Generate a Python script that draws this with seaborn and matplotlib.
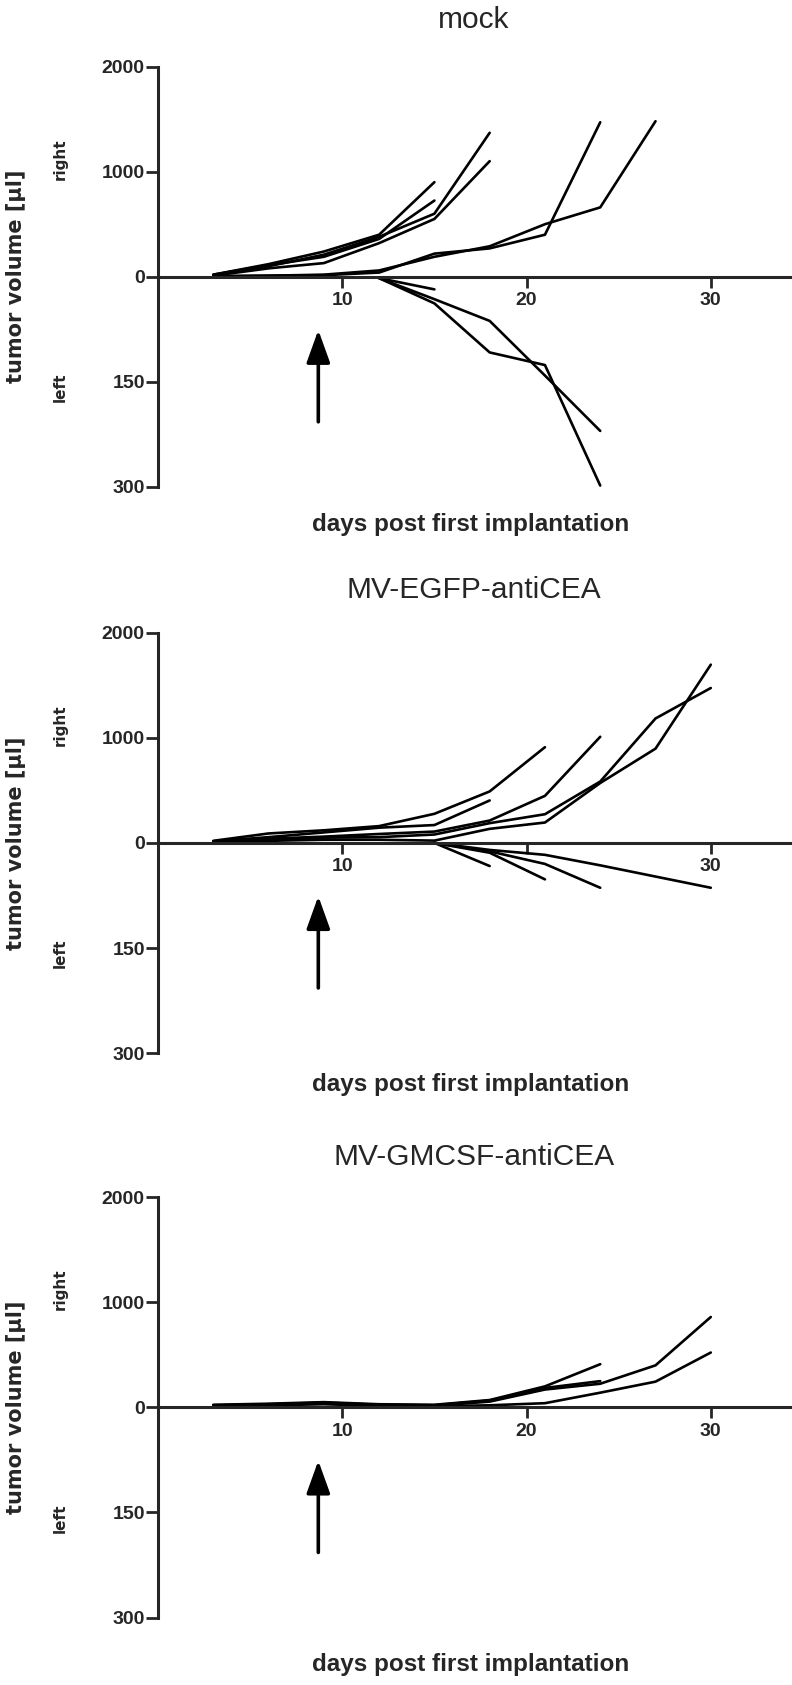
import matplotlib
matplotlib.use("Agg")
import matplotlib.pyplot as plt
import seaborn as sns
import pandas as pd

# measurement days (right tumours start on day 3)
days = [3, 6, 9, 12, 15, 18, 21, 24, 27, 30]

titles = ["mock", "MV-EGFP-antiCEA", "MV-GMCSF-antiCEA"]

# right tumours [µl], one list per mouse
mock_right = [
    [20, 120, 240, 400, 900],
    [20, 110, 190, 360, 725],
    [15, 100, 210, 380, 600, 1370],
    [10, 80, 130, 320, 550, 1100],
    [5, 10, 15, 40, 220, 270, 400, 1470],
    [5, 10, 20, 60, 190, 290, 500, 660, 1480],
]
# left tumours [µl]: first day measured + values
mock_left_start = [12, 12, 12]
mock_left = [
    [2, 18],
    [2, 32, 63, 141, 220],
    [2, 38, 108, 126, 298],
]

egfp_right = [
    [20, 90, 120, 160, 277, 490, 911],
    [15, 55, 100, 145, 170, 404],
    [10, 40, 60, 85, 108, 213, 448, 1010],
    [10, 30, 50, 55, 80, 188, 273, 584, 1184, 1474],
    [5, 20, 30, 30, 22, 134, 194, 570, 897, 1696],
]
egfp_left_start = [15, 15, 15, 15]
egfp_left = [
    [0, 33],
    [0, 14, 52],
    [0, 12, 30, 64],
    [0, 10, 17, 32, 48, 64],
]

gmcsf_right = [
    [25, 35, 50, 30, 25, 70, 200, 411],
    [20, 30, 45, 25, 20, 65, 185, 250],
    [15, 25, 40, 20, 15, 55, 170, 225, 400, 860],
    [10, 20, 30, 15, 10, 20, 40, 140, 245, 522],
]
gmcsf_left_start = []
gmcsf_left = []

right_ticks = [2000, 1000, 0]
left_ticks = [150, 300]
x_ticks = [10, 20, 30]
x_ticklabels = [["10", "20", "30"], ["10", "", "30"], ["10", "20", "30"]]

# arrow: treatment day, drawn on the "left" scale
arrow_day = 8.7
arrow_from = 207
arrow_to = 76

RIGHT_MAX = 2000
LEFT_MAX = 300


def frame(right, left_start, left):
    rows = []
    for i, vals in enumerate(right):
        for d, v in zip(days, vals):
            rows.append(dict(mouse="r%d" % i, day=d, y=v / RIGHT_MAX))
    for i, (s, vals) in enumerate(zip(left_start, left)):
        ld = [d for d in days if d >= s]
        for d, v in zip(ld, vals):
            rows.append(dict(mouse="l%d" % i, day=d, y=-v / LEFT_MAX))
    return pd.DataFrame(rows)


sns.set_style("ticks")
plt.rcParams["font.family"] = ["Liberation Sans", "DejaVu Sans"]

fig = plt.figure(figsize=(7.92, 16.85), dpi=100)

panels = [
    (mock_right, mock_left_start, mock_left),
    (egfp_right, egfp_left_start, egfp_left),
    (gmcsf_right, gmcsf_left_start, gmcsf_left),
]
bottoms = [0.711, 0.375, 0.040]
title_pads = [28, 25, 23]
xlabel_y = [-0.09, -0.074, -0.112]

for k, (right, lstart, left) in enumerate(panels):
    ax = fig.add_axes([0.1995, bottoms[k], 0.798, 0.2495])
    df = frame(right, lstart, left)
    sns.lineplot(data=df, x="day", y="y", units="mouse", estimator=None,
                 color="black", lw=1.9, sort=False, ax=ax)
    ax.set_xlim(0, 34.3)
    ax.set_ylim(-1, 1)
    ax.set_xlabel("")
    ax.set_ylabel("")

    for s in ["top", "right"]:
        ax.spines[s].set_visible(False)
    ax.spines["bottom"].set_position(("data", 0))
    ax.spines["bottom"].set_linewidth(2.2)
    ax.spines["left"].set_linewidth(2.2)

    ax.set_yticks([v / RIGHT_MAX for v in right_ticks] + [-v / LEFT_MAX for v in left_ticks])
    ax.set_yticklabels([str(v) for v in right_ticks] + [str(v) for v in left_ticks])
    ax.set_xticks(x_ticks)
    ax.set_xticklabels(x_ticklabels[k])
    ax.tick_params(axis="y", direction="out", length=8.5, width=2, pad=1, labelsize=14)
    ax.tick_params(axis="x", direction="out", length=8, width=2, pad=3, labelsize=14)
    for lab in ax.get_xticklabels() + ax.get_yticklabels():
        lab.set_fontweight("bold")

    ax.set_title(titles[k], fontsize=21.5, pad=title_pads[k])

    ax.text(0.495, xlabel_y[k], "days post first implantation", transform=ax.transAxes,
            ha="center", va="center", fontsize=17.5, fontweight="bold")
    ax.text(-0.224, 0, "tumor volume [µl]", transform=ax.get_yaxis_transform(),
            rotation=90, ha="center", va="center", fontsize=15,
            fontweight="bold", family="DejaVu Sans")
    ax.text(-0.155, 1120 / RIGHT_MAX, "right", transform=ax.get_yaxis_transform(),
            rotation=90, ha="center", va="center", fontsize=11,
            fontweight="bold", family="DejaVu Sans")
    ax.text(-0.155, -158 / LEFT_MAX, "left", transform=ax.get_yaxis_transform(),
            rotation=90, ha="center", va="center", fontsize=11,
            fontweight="bold", family="DejaVu Sans")

    ax.annotate("", xy=(arrow_day, -arrow_to / LEFT_MAX),
                xytext=(arrow_day, -arrow_from / LEFT_MAX),
                arrowprops=dict(arrowstyle="-|>,head_length=1.0,head_width=0.36",
                                mutation_scale=20, lw=2.6, color="black",
                                shrinkA=0, shrinkB=0))

fig.savefig("out.png", dpi=100)
